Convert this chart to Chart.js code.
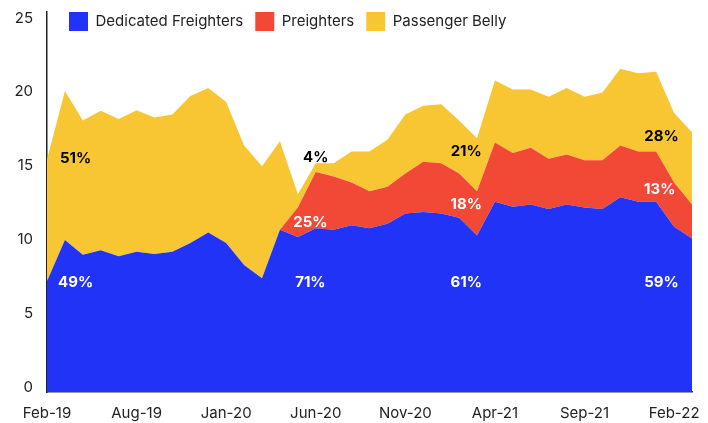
<!DOCTYPE html>
<html>
<head>
<meta charset="utf-8">
<title>Freighter capacity</title>
<script src="https://cdn.jsdelivr.net/npm/chart.js@4/dist/chart.umd.min.js"></script>
<style>
  html, body { margin: 0; padding: 0; background: #fff; }
  #wrap { width: 708px; height: 423px; position: relative; }
</style>
</head>
<body>
<div id="wrap"><canvas id="capacity"></canvas></div>
<script>
'use strict';

//===== data =====//
var months = ['Feb-19','Mar-19','Apr-19','May-19','Jun-19','Jul-19','Aug-19','Sep-19','Oct-19','Nov-19','Dec-19',
  'Jan-20','Feb-20','Mar-20','Apr-20','May-20','Jun-20','Jul-20','Aug-20','Sep-20','Oct-20','Nov-20','Dec-20',
  'Jan-21','Feb-21','Mar-21','Apr-21','May-21','Jun-21','Jul-21','Aug-21','Sep-21','Oct-21','Nov-21','Dec-21',
  'Jan-22','Feb-22'];

// axis text as printed (one every 5 months)
var tickLabels = ['Feb-19','Aug-19','Jan-20','Jun-20','Nov-20','Apr-21','Sep-21','Feb-22'];
var yTicks = [0, 5, 10, 15, 20, 25];

var dedicated = [7.5, 10.3, 9.3, 9.6, 9.2, 9.5, 9.35, 9.5, 10.1, 10.8, 10.1, 8.6, 7.7, 11.0, 10.5, 11.1, 11.0, 11.3,
  11.1, 11.4, 12.1, 12.2, 12.1, 11.8, 10.6, 12.9, 12.55, 12.7, 12.4, 12.7, 12.5, 12.4, 13.2, 12.9, 12.9, 11.2, 10.4];

var preighters = [0, 0, 0, 0, 0, 0, 0, 0, 0, 0, 0, 0, 0, 0, 2.0, 3.8, 3.6, 2.9, 2.5, 2.5, 2.7, 3.4, 3.4, 3.0, 3.0,
  4.0, 3.65, 3.85, 3.4, 3.4, 3.2, 3.3, 3.5, 3.4, 3.4, 3.0, 2.3];

var belly = [8.25, 10.1, 9.1, 9.45, 9.3, 9.6, 9.25, 9.3, 9.95, 9.8, 9.55, 8.1, 7.6, 6.0, 0.9, 0.6, 0.9, 2.1, 2.7,
  3.2, 4.0, 3.8, 4.0, 3.6, 3.6, 4.2, 4.3, 3.95, 4.2, 4.5, 4.3, 4.6, 5.2, 5.3, 5.4, 4.7, 4.9];

// share labels: text, month index, value on the y axis, colour
var shareText  = ['51%', '49%', '4%', '25%', '71%', '21%', '18%', '61%', '28%', '13%', '59%'];
var shareAt    = [1.6, 1.6, 15.0, 14.7, 14.7, 23.4, 23.4, 23.4, 34.3, 34.2, 34.3];
var shareValue = [15.85, 7.4, 15.9, 11.5, 7.4, 16.3, 12.7, 7.4, 17.3, 13.7, 7.4];
var shareDark  = [true, false, true, false, false, true, false, false, true, false, false];

var BLUE = '#2133f7';
var RED = '#f24937';
var YELLOW = '#f9c633';
var INK = '#222222';

Chart.defaults.font.family = 'Inter, "Noto Sans", sans-serif';
Chart.defaults.color = INK;

//==== legend lives inside the plot, so it takes no room of its own ====//
var legendInPlot = {
  id: 'legendInPlot',
  beforeLayout: function(chart) {
    var lg = chart.legend;
    if (lg && !lg._noRoom) {
      var fit = lg.fit;
      lg.fit = function() {
        fit.call(this);
        this.height = 0;
      };
      lg._noRoom = true;
    }
  },
  afterLayout: function(chart) {
    var lg = chart.legend;
    lg.left = 57;
    lg.top = 0;
    lg.height = 46;
    lg.bottom = 46;
  }
};

var shareLabels = {
  id: 'shareLabels',
  afterDatasetsDraw: function(chart) {
    var ctx = chart.ctx;
    var x = chart.scales.x;
    var y = chart.scales.y;
    ctx.save();
    ctx.font = 'bold 15px Inter, "Noto Sans", sans-serif';
    ctx.textAlign = 'center';
    ctx.textBaseline = 'middle';
    for (var i = 0; i < shareText.length; i++) {
      ctx.fillStyle = shareDark[i] ? '#000000' : '#ffffff';
      ctx.fillText(shareText[i], x.getPixelForValue(shareAt[i]), y.getPixelForValue(shareValue[i]));
    }
    ctx.restore();
  }
};

function areaSet(label, data, colour, fill) {
  return {
    label: label,
    data: data,
    backgroundColor: colour,
    borderColor: colour,
    borderWidth: 0,
    pointRadius: 0,
    pointHoverRadius: 0,
    tension: 0,
    fill: fill
  };
}

var ctx = document.getElementById('capacity').getContext('2d');
var chart = new Chart(ctx, {
  type: 'line',
  data: {
    labels: months,
    datasets: [
      areaSet('Dedicated Freighters', dedicated, BLUE, 'origin'),
      areaSet('Preighters', preighters, RED, '-1'),
      areaSet('Passenger Belly', belly, YELLOW, '-1')
    ]
  },
  plugins: [legendInPlot, shareLabels],
  options: {
    responsive: true,
    maintainAspectRatio: false,
    animation: false,
    layout: { padding: { top: 12, right: 16, bottom: 1, left: 0 } },
    plugins: {
      tooltip: { enabled: false },
      legend: {
        position: 'top',
        align: 'start',
        labels: {
          boxWidth: 19,
          boxHeight: 19,
          padding: 12,
          color: INK,
          font: { size: 15 }
        }
      }
    },
    scales: {
      x: {
        afterFit: function(scale) {
          scale.height = 30;
          scale.paddingLeft = 0;
          scale.paddingRight = 0;
        },
        grid: { display: false, drawTicks: false },
        border: { display: true, color: '#333333', width: 1.5 },
        ticks: {
          autoSkip: false,
          maxRotation: 0,
          padding: 12,
          font: { size: 15 },
          color: INK,
          callback: function(value, index) {
            return index % 5 === 0 ? tickLabels[index / 5] : '';
          }
        }
      },
      y: {
        stacked: true,
        min: 0,
        max: 25.75,
        afterFit: function(scale) {
          scale.width = 47;
          scale.paddingTop = 0;
          scale.paddingBottom = 0;
        },
        afterBuildTicks: function(scale) {
          scale.ticks = yTicks.map(function(v) { return { value: v }; });
        },
        grid: { display: false, drawTicks: false },
        border: { display: true, color: '#222222', width: 1.5 },
        ticks: {
          padding: 14,
          labelOffset: -5,
          font: { size: 15 },
          color: INK
        }
      }
    }
  }
});
</script>
</body>
</html>
